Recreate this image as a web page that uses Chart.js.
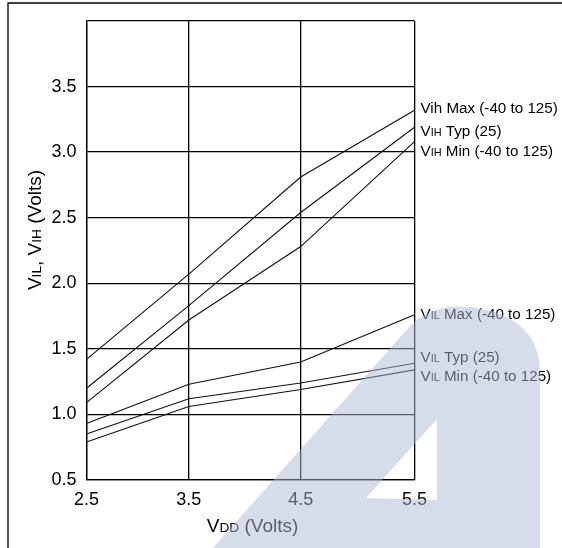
<!DOCTYPE html>
<html>
<head>
<meta charset="utf-8">
<script src="https://cdn.jsdelivr.net/npm/chart.js@4"></script>
<style>
  html, body { margin: 0; padding: 0; background: #fff; }
  #vChart { display: block; }
</style>
</head>
<body>
<canvas id="vChart" width="562" height="548"></canvas>
<script>
// supply voltage on the x axis
const vdd = [2.5, 3.5, 4.5, 5.5];

// threshold curves (Volts)
const vihMax = [1.42, 2.07, 2.81, 3.32];
const vihTyp = [1.20, 1.83, 2.54, 3.19];
const vihMin = [1.09, 1.72, 2.28, 3.08];
const vilMax = [0.93, 1.23, 1.40, 1.76];
const vilTyp = [0.85, 1.12, 1.24, 1.39];
const vilMin = [0.79, 1.06, 1.19, 1.34];

// curve names, {..} = small caps subscript
const seriesNames = [
  "Vih Max (-40 to 125)",
  "V{IH} Typ (25)",
  "V{IH} Min (-40 to 125)",
  "V{IL} Max (-40 to 125)",
  "V{IL} Typ (25)",
  "V{IL} Min (-40 to 125)"
];
const seriesData = [vihMax, vihTyp, vihMin, vilMax, vilTyp, vilMin];

const xTicks = [2.5, 3.5, 4.5, 5.5];
const yTicks = [0.5, 1.0, 1.5, 2.0, 2.5, 3.0, 3.5];
const xTitle = "V{DD} (Volts)";
const yTitle = "V{IL}, V{IH} (Volts)";

// the original x grid is not evenly spaced: where each x tick sits across the plot width
const xTickPos = [0, 0.312, 0.653, 1];

// label nudges so the names don't sit on each other (px)
const labelDy = [-2.5, 3.5, 9, -0.5, -6, 6.5];

const FONT = "'Liberation Sans', Arial, sans-serif";

// linear scale with piecewise spacing between the x ticks
class WarpedScale extends Chart.LinearScale {
  getPixelForValue(value) {
    let i = 0;
    while (i < xTicks.length - 2 && value > xTicks[i + 1]) i++;
    const f = (value - xTicks[i]) / (xTicks[i + 1] - xTicks[i]);
    const pos = xTickPos[i] + f * (xTickPos[i + 1] - xTickPos[i]);
    return this.getPixelForDecimal(pos);
  }
  getValueForPixel(pixel) {
    const pos = this.getDecimalForPixel(pixel);
    let i = 0;
    while (i < xTickPos.length - 2 && pos > xTickPos[i + 1]) i++;
    const f = (pos - xTickPos[i]) / (xTickPos[i + 1] - xTickPos[i]);
    return xTicks[i] + f * (xTicks[i + 1] - xTicks[i]);
  }
}
WarpedScale.id = "warped";
WarpedScale.defaults = Chart.LinearScale.defaults;
Chart.register(WarpedScale);

// draws "V{IL} ..." with the braced part smaller
function drawMixed(ctx, str, x, y, size, align) {
  const parts = [];
  str.split(/(\{[^}]*\})/).forEach(function (p) {
    if (!p) return;
    if (p[0] === "{") parts.push({ t: p.slice(1, -1), s: size * 0.72 });
    else parts.push({ t: p, s: size });
  });
  let total = 0;
  parts.forEach(function (p) {
    ctx.font = p.s + "px " + FONT;
    p.w = ctx.measureText(p.t).width;
    total += p.w;
  });
  let cx = align === "center" ? x - total / 2 : x;
  ctx.textAlign = "left";
  ctx.textBaseline = "alphabetic";
  parts.forEach(function (p) {
    ctx.font = p.s + "px " + FONT;
    ctx.fillText(p.t, cx, y);
    cx += p.w;
  });
}

const decorations = {
  id: "decorations",
  beforeDraw(chart) {
    const ctx = chart.ctx;
    ctx.save();
    ctx.fillStyle = "#fff";
    ctx.fillRect(0, 0, chart.width, chart.height);
    // outer frame (left + top edges)
    ctx.strokeStyle = "#000";
    ctx.lineWidth = 1.3;
    ctx.beginPath();
    ctx.moveTo(8, chart.height);
    ctx.lineTo(8, 3);
    ctx.lineTo(chart.width, 3);
    ctx.stroke();
    ctx.restore();
  },
  afterDatasetsDraw(chart) {
    const ctx = chart.ctx;
    const area = chart.chartArea;
    const ys = chart.scales.y;
    ctx.save();
    ctx.fillStyle = "#000";
    seriesData.forEach(function (d, i) {
      const y = ys.getPixelForValue(d[d.length - 1]) + labelDy[i] + 5;
      drawMixed(ctx, seriesNames[i], area.right + 6, y, 15.2, "left");
    });
    // axis titles
    drawMixed(ctx, xTitle, (area.left + area.right) / 2 + 2, 532, 19, "center");
    ctx.translate(41, 230);
    ctx.rotate(-Math.PI / 2);
    drawMixed(ctx, yTitle, 0, 0, 19, "center");
    ctx.restore();
  },
  afterDraw(chart) {
    // faint logo watermark over the lower right
    const ctx = chart.ctx;
    ctx.save();
    ctx.fillStyle = "rgba(175,185,215,0.5)";
    ctx.beginPath();
    ctx.moveTo(213, 548);
    ctx.lineTo(410, 326);
    ctx.quadraticCurveTo(440, 296, 495, 312);
    ctx.quadraticCurveTo(540, 328, 540, 372);
    ctx.lineTo(540, 548);
    ctx.closePath();
    ctx.moveTo(366, 498);
    ctx.lineTo(437, 500);
    ctx.lineTo(437, 419);
    ctx.closePath();
    ctx.fill("evenodd");
    ctx.restore();
  }
};

new Chart("vChart", {
  type: "line",
  data: {
    datasets: seriesData.map(function (d, i) {
      return {
        label: seriesNames[i],
        data: vdd.map(function (x, j) { return { x: x, y: d[j] }; }),
        borderColor: "#111",
        borderWidth: 1.1,
        pointRadius: 0,
        tension: 0,
        fill: false
      };
    })
  },
  options: {
    responsive: false,
    animation: false,
    devicePixelRatio: 1,
    layout: { padding: { left: 0, right: 147.5, top: 21, bottom: 0 } },
    plugins: { legend: { display: false }, tooltip: { enabled: false } },
    scales: {
      x: {
        type: "warped",
        min: 2.5,
        max: 5.5,
        afterBuildTicks: function (s) { s.ticks = xTicks.map(function (v) { return { value: v }; }); },
        afterFit: function (s) { s.height = 68; },
        ticks: {
          color: "#000",
          padding: 9,
          font: { family: FONT, size: 18 },
          callback: function (v) { return Number(v).toFixed(1); }
        },
        grid: { color: "#000", lineWidth: 1.3, drawTicks: false },
        border: { color: "#000", width: 1.3 }
      },
      y: {
        min: 0.5,
        max: 4.0,
        afterBuildTicks: function (s) {
          s.ticks = yTicks.concat([4.0]).map(function (v) { return { value: v }; });
        },
        afterFit: function (s) { s.width = 86.5; },
        ticks: {
          color: "#000",
          padding: 10,
          font: { family: FONT, size: 18 },
          callback: function (v) { return v >= 4 ? "" : v.toFixed(1); }
        },
        grid: { color: "#000", lineWidth: 1.3, drawTicks: false },
        border: { color: "#000", width: 1.3 }
      }
    }
  },
  plugins: [decorations]
});
</script>
</body>
</html>
